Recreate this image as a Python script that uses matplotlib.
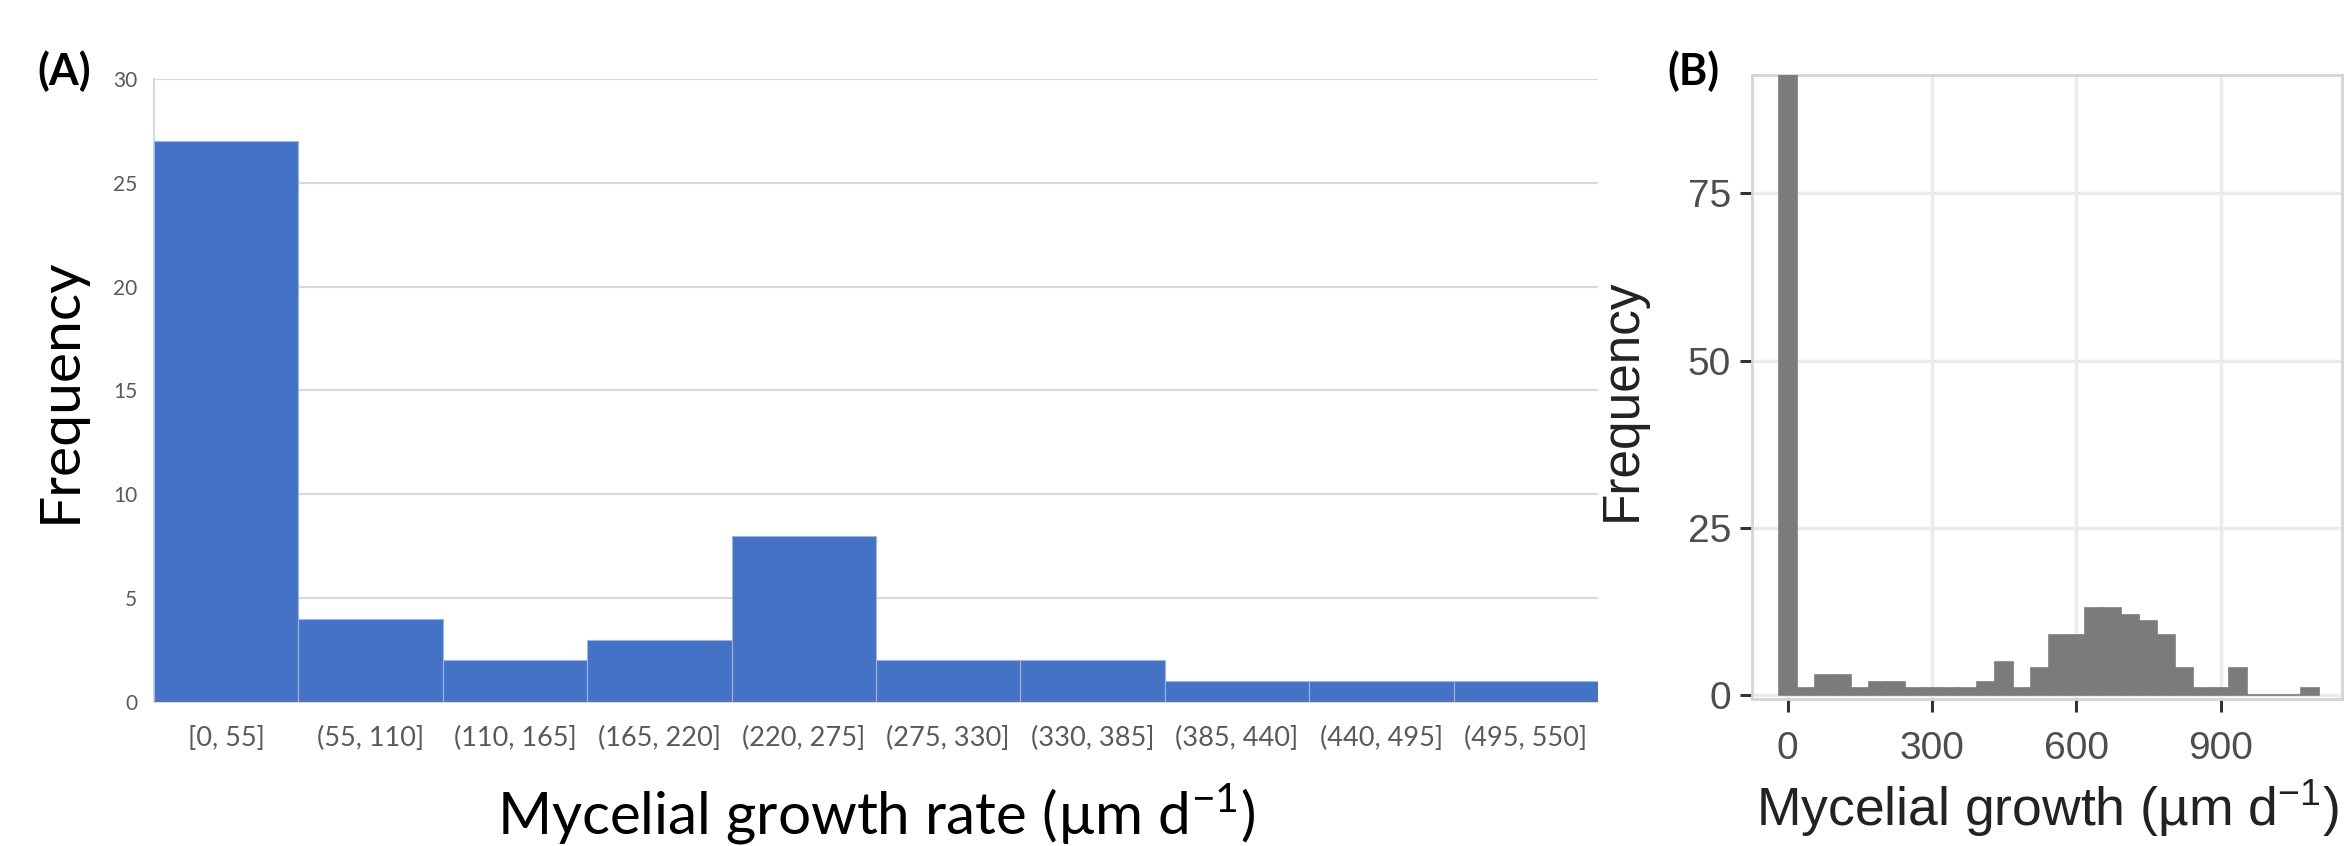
import matplotlib
matplotlib.use("Agg")
import matplotlib.pyplot as plt
import numpy as np

# (A) binned growth rates
bins_a = ['[0, 55]', '(55, 110]', '(110, 165]', '(165, 220]', '(220, 275]',
          '(275, 330]', '(330, 385]', '(385, 440]', '(440, 495]', '(495, 550]']
freq_a = [27, 4, 2, 3, 8, 2, 2, 1, 1, 1]

# (B) 30-bin histogram, first bin centred on 0
bin_width_b = 37.4
freq_b = [93, 1, 3, 3, 1, 2, 2, 1, 1, 1, 1, 2, 5, 1, 4,
          9, 9, 13, 13, 12, 11, 9, 4, 1, 1, 4, 0, 0, 0, 1]

W, H = 2348, 846
fig = plt.figure(figsize=(W / 100, H / 100), dpi=100)


def px_axes(left, top, right, bottom):
    return fig.add_axes([left / W, 1 - bottom / H, (right - left) / W, (bottom - top) / H])


# ---- panel A (Excel style) ----
ax1 = px_axes(154, 79, 1598, 702)
x = np.arange(len(freq_a))
ax1.bar(x, freq_a, width=1.0, color='#4472C4', edgecolor='#9DB5E0', linewidth=0.8, zorder=3)
ax1.set_xlim(-0.5, len(freq_a) - 0.5)
ax1.set_ylim(0, 30)
ax1.set_yticks(range(0, 31, 5))
ax1.set_xticks(x)
ax1.set_xticklabels(bins_a)
ax1.grid(axis='y', color='#D9D9D9', linewidth=1.5, zorder=0)
for s in ['top', 'right']:
    ax1.spines[s].set_visible(False)
ax1.spines['left'].set_color('#D9D9D9')
ax1.spines['left'].set_linewidth(1.5)
ax1.spines['bottom'].set_color('#D9D9D9')
ax1.spines['bottom'].set_linewidth(1.5)
ax1.tick_params(axis='both', length=0, colors='#595959')
ax1.tick_params(axis='y', labelsize=15, pad=12)
ax1.tick_params(axis='x', labelsize=19.5, pad=17)
for lab in ax1.get_xticklabels() + ax1.get_yticklabels():
    lab.set_family('Lato')

fig.text(60 / W, 1 - 390 / H, 'Frequency', rotation=90, ha='center', va='center',
         fontsize=41, family='Lato', color='black')
fig.text(876 / W, 1 - 814 / H, r'Mycelial growth rate (µm d$^{\mathregular{-1}}$)',
         ha='center', va='center', fontsize=42, family='Lato', color='black')
fig.text(37 / W, 1 - 71 / H, '(A)', ha='left', va='center', fontsize=31,
         family='Lato', fontweight='bold')

# ---- panel B (ggplot style) ----
ax2 = px_axes(1752, 75, 2342, 699)
centers = np.arange(len(freq_b)) * bin_width_b
ax2.bar(centers, freq_b, width=bin_width_b, color='#7B7B7B', edgecolor='#7B7B7B',
        linewidth=1.2, zorder=3)
ax2.set_xlim(-74, 1152)
ax2.set_ylim(-0.6, 92.7)
ax2.set_xticks([0, 300, 600, 900])
ax2.set_yticks([0, 25, 50, 75])
ax2.grid(color='#EBEBEB', linewidth=2.5, zorder=0)
for s in ax2.spines.values():
    s.set_color('#D4D4D4')
    s.set_linewidth(2)
ax2.tick_params(axis='both', length=9, width=2.2, color='#333333',
                labelcolor='#4D4D4D', labelsize=28, pad=6)
ax2.tick_params(axis='x', pad=14)
for lab in ax2.get_xticklabels() + ax2.get_yticklabels():
    lab.set_family('Liberation Sans')

fig.text(1622 / W, 1 - 400 / H, 'Frequency', rotation=90, ha='center', va='center',
         fontsize=37, family='Liberation Sans', color='#222222')
fig.text(2047 / W, 1 - 808 / H, r'Mycelial growth (µm d$^{\mathregular{−1}}$)',
         ha='center', va='center', fontsize=38.5, family='Liberation Sans', color='#222222')
fig.text(1667 / W, 1 - 71 / H, '(B)', ha='left', va='center', fontsize=31,
         family='Lato', fontweight='bold')

fig.savefig('out.png', dpi=100, facecolor='white')
